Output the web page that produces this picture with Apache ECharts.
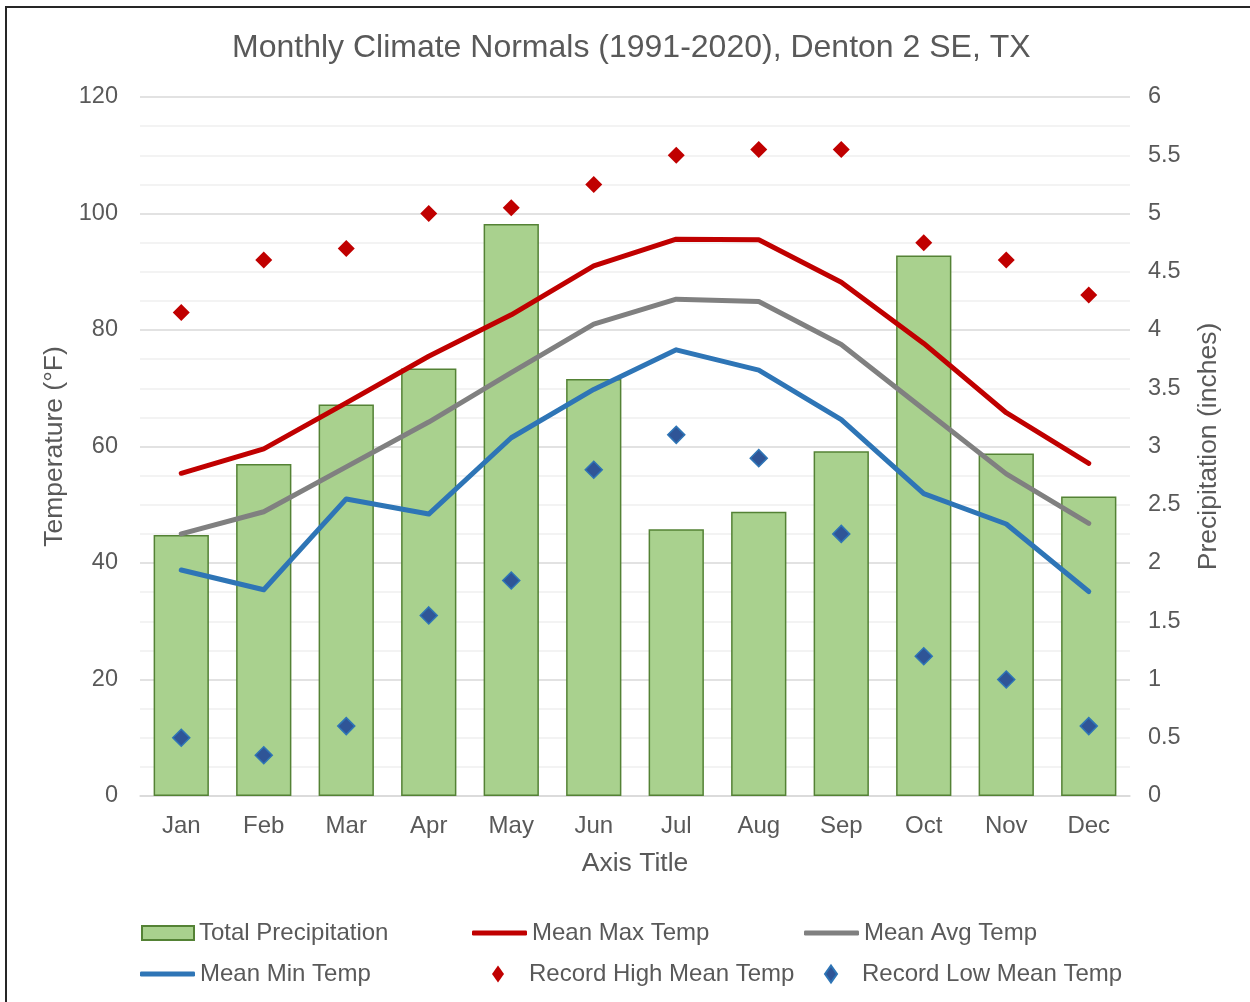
<!DOCTYPE html>
<html>
<head>
<meta charset="utf-8">
<title>Monthly Climate Normals</title>
<script src="https://cdn.jsdelivr.net/npm/echarts@6/dist/echarts.min.js"></script>
<style>
    html, body { margin: 0; padding: 0; background: #fff; }
    #chart { width: 1250px; height: 1002px; }
</style>
</head>
<body>
<div id="chart"></div>
<script>
var months = ['Jan', 'Feb', 'Mar', 'Apr', 'May', 'Jun', 'Jul', 'Aug', 'Sep', 'Oct', 'Nov', 'Dec'];
var precip = [2.24, 2.85, 3.36, 3.67, 4.91, 3.58, 2.29, 2.44, 2.96, 4.64, 2.94, 2.57];
var meanMax = [55.4, 59.6, 67.5, 75.5, 82.6, 91.0, 95.6, 95.5, 88.2, 77.7, 65.8, 57.1];
var meanAvg = [45.0, 48.8, 56.5, 64.2, 72.7, 81.0, 85.3, 84.9, 77.5, 66.4, 55.3, 46.8];
var meanMin = [38.8, 35.4, 51.0, 48.4, 61.5, 69.8, 76.6, 73.1, 64.6, 51.9, 46.7, 35.1];
var recordHigh = [83, 92, 94, 100, 101, 105, 110, 111, 111, 95, 92, 86];
var recordLow = [10, 7, 12, 31, 37, 56, 62, 58, 45, 24, 20, 12];

var FONT = '"Liberation Sans", Arial, sans-serif';
var TEXT = '#595959';

// one legend per item so the three columns line up like the original
function legendAt(name, icon, left, top, w, h, pad) {
    return {
        data: [{ name: name, icon: icon }],
        left: left,
        top: top,
        padding: 0,
        itemWidth: w,
        itemHeight: h,
        selectedMode: false,
        formatter: function(n) { return (pad || '') + n; },
        textStyle: { fontFamily: FONT, fontSize: 24, color: TEXT }
    };
}

function lineSeries(name, data, color) {
    return {
        name: name,
        type: 'line',
        yAxisIndex: 0,
        data: data,
        symbol: 'none',
        lineStyle: { color: color, width: 5, cap: 'round', join: 'round' },
        itemStyle: { color: color },
        z: 3
    };
}

var chart = echarts.init(document.getElementById('chart'));
chart.setOption({
    animation: false,
    backgroundColor: '#fff',
    title: {
        text: 'Monthly Climate Normals (1991-2020), Denton 2 SE, TX',
        left: 227,
        top: 27,
        textStyle: { fontFamily: FONT, fontSize: 32, fontWeight: 'normal', color: TEXT }
    },
    graphic: [{
        type: 'rect',
        shape: { x: 6, y: 7, width: 1400, height: 1200 },
        style: { fill: 'none', stroke: '#262626', lineWidth: 2 },
        silent: true
    }],
    legend: [
        legendAt('Total Precipitation', 'rect', 141, 921, 52, 14),
        legendAt('Mean Max Temp', 'roundRect', 472, 921, 55, 5),
        legendAt('Mean Avg Temp', 'roundRect', 804, 921, 55, 5),
        legendAt('Mean Min Temp', 'roundRect', 140, 962, 55, 5),
        legendAt('Record High Mean Temp', 'diamond', 492, 962, 12, 17, '   '),
        legendAt('Record Low Mean Temp', 'diamond', 824, 962, 12, 17, '   ')
    ],
    grid: { left: 140, right: 120, top: 97, bottom: 206 },
    xAxis: {
        type: 'category',
        data: months,
        name: 'Axis Title',
        nameLocation: 'middle',
        nameGap: 54,
        nameTextStyle: { fontFamily: FONT, fontSize: 26.5, color: TEXT },
        axisLine: { lineStyle: { color: '#D9D9D9', width: 1.5 } },
        axisTick: { show: false },
        axisLabel: { fontFamily: FONT, fontSize: 24, color: TEXT, margin: 18 }
    },
    yAxis: [{
        type: 'value',
        min: 0,
        max: 120,
        interval: 20,
        name: 'Temperature (°F)',
        nameLocation: 'middle',
        nameGap: 64,
        nameTextStyle: { fontFamily: FONT, fontSize: 26.5, color: TEXT },
        axisLine: { show: false },
        axisTick: { show: false },
        axisLabel: { fontFamily: FONT, fontSize: 23.5, color: TEXT, margin: 22 },
        splitLine: { lineStyle: { color: '#D9D9D9', width: 1.5 } },
        minorTick: { show: false, splitNumber: 4 },
        minorSplitLine: { show: true, lineStyle: { color: '#F0F0F0', width: 1.5 } }
    }, {
        type: 'value',
        min: 0,
        max: 6,
        interval: 0.5,
        name: 'Precipitation (inches)',
        nameLocation: 'middle',
        nameGap: 65,
        nameTextStyle: { fontFamily: FONT, fontSize: 26.5, color: TEXT },
        axisLine: { show: false },
        axisTick: { show: false },
        axisLabel: { fontFamily: FONT, fontSize: 23.5, color: TEXT, margin: 18 },
        splitLine: { show: false }
    }],
    series: [{
        name: 'Total Precipitation',
        type: 'bar',
        yAxisIndex: 1,
        data: precip,
        barWidth: '67%',
        itemStyle: { color: '#A9D18E', borderColor: '#548235', borderWidth: 1.5 },
        z: 2
    },
    lineSeries('Mean Max Temp', meanMax, '#C00000'),
    lineSeries('Mean Avg Temp', meanAvg, '#808080'),
    lineSeries('Mean Min Temp', meanMin, '#2E75B6'),
    {
        name: 'Record High Mean Temp',
        type: 'scatter',
        yAxisIndex: 0,
        data: recordHigh,
        symbol: 'diamond',
        symbolSize: 17,
        itemStyle: { color: '#C00000', opacity: 1 },
        z: 4
    }, {
        name: 'Record Low Mean Temp',
        type: 'scatter',
        yAxisIndex: 0,
        data: recordLow,
        symbol: 'diamond',
        symbolSize: 17,
        itemStyle: { color: '#2F5597', borderColor: '#2E75B6', borderWidth: 1.5, opacity: 1 },
        z: 4
    }]
});
</script>
</body>
</html>
